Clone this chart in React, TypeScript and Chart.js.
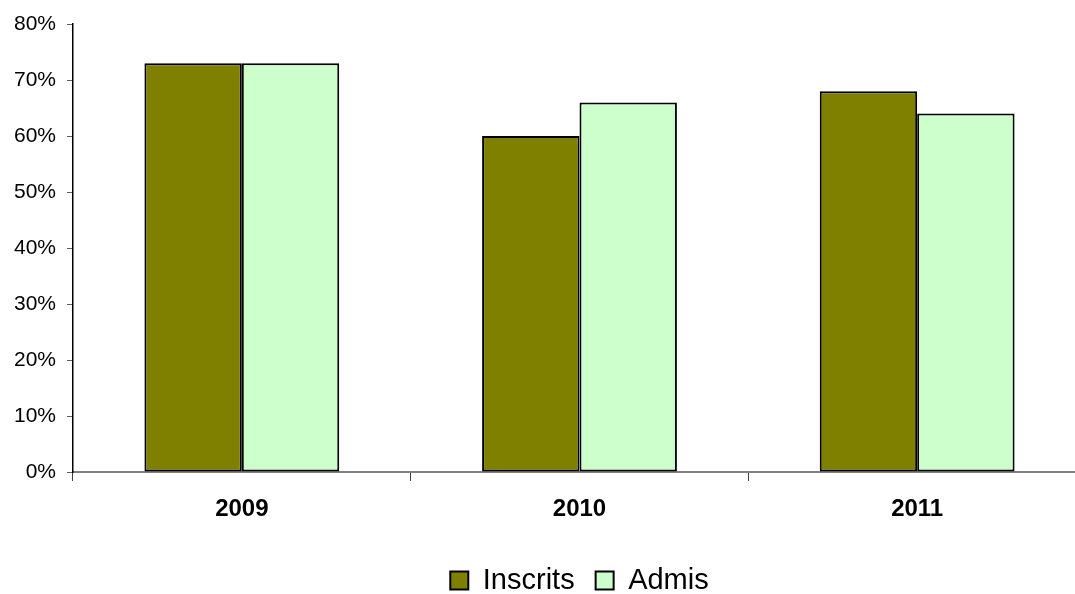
import React, { useEffect, useRef } from "react";
import { Chart, registerables } from "chart.js";

Chart.register(...registerables);

const years = ["2009", "2010", "2011"];
const inscrits = [73, 60, 68];
const admis = [73, 66, 64];
const yTicks = [0, 10, 20, 30, 40, 50, 60, 70, 80];

const FONT = "Arial, 'Liberation Sans', sans-serif";

export default function App() {
  const canvasRef = useRef<HTMLCanvasElement | null>(null);

  useEffect(() => {
    const canvas = canvasRef.current;
    if (!canvas) return;
    const chart = new Chart(canvas, {
      type: "bar",
      data: {
        labels: years,
        datasets: [
          {
            label: "Inscrits",
            data: inscrits,
            backgroundColor: "#808000",
            borderColor: "#000000",
            borderWidth: 2,
            borderSkipped: false,
          },
          {
            label: "Admis",
            data: admis,
            backgroundColor: "#CCFFCC",
            borderColor: "#000000",
            borderWidth: 2,
            borderSkipped: false,
          },
        ],
      },
      options: {
        animation: false,
        responsive: false,
        maintainAspectRatio: false,
        layout: { padding: { top: 24, left: 0, right: 0, bottom: 0 } },
        datasets: {
          bar: { categoryPercentage: 0.577, barPercentage: 1 },
        },
        plugins: {
          tooltip: { enabled: false },
          legend: {
            position: "bottom",
            fullSize: false,
            labels: {
              font: { family: FONT, size: 29 },
              color: "#000",
              boxWidth: 18,
              boxHeight: 18,
              padding: 21,
              generateLabels: (c) =>
                c.data.datasets.map((ds, i) => ({
                  text: ds.label as string,
                  fillStyle: ds.backgroundColor as string,
                  strokeStyle: "#000",
                  lineWidth: 2,
                  hidden: false,
                  datasetIndex: i,
                })),
            },
          },
        },
        scales: {
          x: {
            grid: {
              offset: true,
              drawOnChartArea: false,
              drawTicks: true,
              tickLength: 9,
              color: "#404040",
            },
            border: { display: true, color: "#808080", width: 2 },
            ticks: {
              color: "#000",
              padding: 14,
              font: { family: FONT, size: 24, weight: "bold" },
            },
            afterFit: (s) => {
              s.height = 73;
            },
          },
          y: {
            min: 0,
            max: 80,
            afterBuildTicks: (s) => {
              s.ticks = yTicks.map((v) => ({ value: v }));
            },
            grid: {
              drawOnChartArea: false,
              drawTicks: true,
              tickLength: 6,
              color: "#606060",
            },
            border: { display: true, color: "#000", width: 1.5 },
            ticks: {
              color: "#000",
              padding: 11,
              font: { family: FONT, size: 21 },
              callback: (v) => `${v}%`,
            },
            afterFit: (s) => {
              s.width = 73;
            },
          },
        },
      },
    });
    return () => chart.destroy();
  }, []);

  return (
    <div
      style={{
        position: "fixed",
        left: 0,
        top: 0,
        width: 1075,
        height: 594,
        overflow: "hidden",
        background: "#fff",
      }}
    >
      <canvas
        ref={canvasRef}
        width={1086}
        height={605}
        style={{ display: "block", width: 1086, height: 605 }}
      />
    </div>
  );
}
